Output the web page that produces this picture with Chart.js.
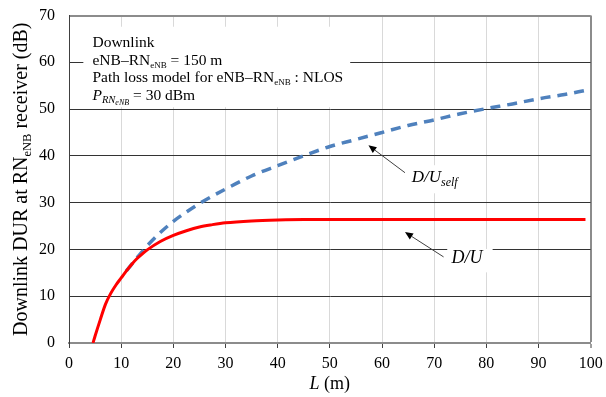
<!DOCTYPE html>
<html>
<head>
<meta charset="utf-8">
<script src="https://cdn.jsdelivr.net/npm/chart.js@4"></script>
<style>
html,body{margin:0;padding:0;background:#fff;}
#wrap{width:606px;height:397px;}
</style>
</head>
<body>
<div id="wrap"><canvas id="c" width="606" height="397"></canvas></div>
<script>
// ---- data ----
const L_DU    = [4.6, 5, 6, 7, 8, 9, 10, 11, 12, 13, 14, 15, 17.5, 20, 22.5, 25, 27.5, 30, 35, 40, 45, 50, 60, 70, 80, 90, 99];
const DU      = [0, 1.5, 5.0, 8.3, 10.6, 12.4, 13.9, 15.4, 16.8, 18.0, 19.0, 19.9, 21.7, 23.0, 24.0, 24.8, 25.3, 25.7, 26.1, 26.3, 26.4, 26.4, 26.4, 26.4, 26.4, 26.4, 26.4];
const L_SELF  = [11, 12, 13, 14, 15, 17.5, 20, 22.5, 25, 30, 35, 40, 45, 50, 55, 60, 65, 70, 75, 80, 85, 90, 95, 99];
const DU_SELF = [15.4, 16.8, 18.2, 19.5, 20.8, 23.6, 26.0, 28.0, 29.8, 32.9, 35.7, 37.9, 40.0, 42.0, 43.5, 45.0, 46.5, 47.7, 49.0, 50.1, 51.1, 52.2, 53.1, 54.0];
const X_TICKS = [0, 10, 20, 30, 40, 50, 60, 70, 80, 90, 100];
const Y_TICKS = [0, 10, 20, 30, 40, 50, 60, 70];

const SERIF = "'Liberation Serif', 'Times New Roman', serif";
const f = (size, style) => (style ? style + ' ' : '') + size + 'px ' + SERIF;

function richWidth(ctx, segs) {
  let w = 0;
  for (const s of segs) { ctx.font = s.font; w += ctx.measureText(s.t).width; }
  return w;
}
function drawRich(ctx, x, y, segs) {
  ctx.textBaseline = 'alphabetic';
  ctx.textAlign = 'left';
  let cx = x;
  for (const s of segs) {
    ctx.font = s.font;
    ctx.fillText(s.t, cx, y + (s.dy || 0));
    cx += ctx.measureText(s.t).width;
  }
  return cx;
}
function arrow(ctx, x1, y1, x2, y2) {
  ctx.save();
  ctx.strokeStyle = '#404040';
  ctx.fillStyle = '#000';
  ctx.lineWidth = 1;
  const a = Math.atan2(y2 - y1, x2 - x1);
  const hl = 8, hw = 3.5;
  const bx = x2 - hl * Math.cos(a), by = y2 - hl * Math.sin(a);
  ctx.beginPath(); ctx.moveTo(x1, y1); ctx.lineTo(bx, by); ctx.stroke();
  ctx.beginPath();
  ctx.moveTo(x2, y2);
  ctx.lineTo(bx + hw * Math.sin(a), by - hw * Math.cos(a));
  ctx.lineTo(bx - hw * Math.sin(a), by + hw * Math.cos(a));
  ctx.closePath(); ctx.fill();
  ctx.restore();
}

const annot = {
  id: 'annot',
  beforeDatasetsDraw(chart) {
    const ctx = chart.ctx, xs = chart.scales.x, ys = chart.scales.y;
    const X = v => xs.getPixelForValue(v), Y = v => ys.getPixelForValue(v);
    ctx.save();
    ctx.fillStyle = '#fff';
    // info box
    ctx.fillRect(X(2.75), Y(67.6), X(53.9) - X(2.75), Y(50.4) - Y(67.6));
    // label backgrounds
    ctx.fillRect(X(72.5), Y(20.1), X(81.2) - X(72.5), Y(15.1) - Y(20.1));
    ctx.fillRect(X(65.2), Y(38.0), X(75.8) - X(65.2), Y(32.0) - Y(38.0));
    ctx.restore();
  },
  afterDatasetsDraw(chart) {
    const ctx = chart.ctx, xs = chart.scales.x, ys = chart.scales.y;
    const X = v => xs.getPixelForValue(v), Y = v => ys.getPixelForValue(v);
    ctx.save();
    ctx.fillStyle = '#000';
    const tx = X(4.5);
    const fs = 15.5;
    drawRich(ctx, tx, Y(64.4) + 5, [{t: 'Downlink', font: f(fs)}]);
    drawRich(ctx, tx, Y(60.5) + 5, [
      {t: 'eNB\u2013RN', font: f(fs)}, {t: 'eNB', font: f(9), dy: 3}, {t: ' = 150 m', font: f(fs)}]);
    drawRich(ctx, tx, Y(56.8) + 5, [
      {t: 'Path loss model for eNB\u2013RN', font: f(fs)}, {t: 'eNB', font: f(9), dy: 3}, {t: ' : NLOS', font: f(fs)}]);
    drawRich(ctx, tx, Y(53.0) + 5, [
      {t: 'P', font: f(fs, 'italic')}, {t: 'RN', font: f(10.5, 'italic'), dy: 3},
      {t: 'eNB', font: f(8, 'italic'), dy: 5}, {t: ' = 30 dBm', font: f(fs)}]);

    // curve labels
    drawRich(ctx, X(65.7), Y(35.6) + 6, [{t: 'D/U', font: f(17, 'italic')}, {t: 'self', font: f(12, 'italic'), dy: 4}]);
    drawRich(ctx, X(73.3), Y(18.3) + 6, [{t: 'D/U', font: f(18, 'italic')}]);
    arrow(ctx, X(64.4), Y(36.4), X(57.4), Y(42.25));
    arrow(ctx, X(71.8), Y(18.4), X(64.4), Y(23.7));

    // axis titles
    const xt = [{t: 'L', font: f(18, 'italic')}, {t: ' (m)', font: f(18)}];
    const xw = richWidth(ctx, xt);
    drawRich(ctx, (chart.chartArea.left + chart.chartArea.right) / 2 - xw / 2, 389, xt);

    const yt = [{t: 'Downlink DUR at RN', font: f(20)}, {t: 'eNB', font: f(12.5), dy: 4}, {t: ' receiver (dB)', font: f(20)}];
    const yw = richWidth(ctx, yt);
    ctx.translate(27, (chart.chartArea.top + chart.chartArea.bottom) / 2);
    ctx.rotate(-Math.PI / 2);
    drawRich(ctx, -yw / 2, 0, yt);
    ctx.restore();
  }
};

new Chart(document.getElementById('c'), {
  type: 'line',
  data: {
    datasets: [
      {
        label: 'D/U',
        data: L_DU.map((x, i) => ({x, y: DU[i]})),
        borderColor: '#ff0000',
        borderWidth: 3,
        pointRadius: 0,
        cubicInterpolationMode: 'monotone',
        fill: false
      },
      {
        label: 'D/Uself',
        data: L_SELF.map((x, i) => ({x, y: DU_SELF[i]})),
        borderColor: '#4f81bd',
        borderWidth: 3.5,
        borderDash: [10, 7],
        pointRadius: 0,
        cubicInterpolationMode: 'monotone',
        fill: false
      }
    ]
  },
  options: {
    responsive: false,
    animation: false,
    devicePixelRatio: 1,
    layout: {padding: {top: 15.5, right: 15.3, left: 0, bottom: 0}},
    plugins: {legend: {display: false}, tooltip: {enabled: false}},
    scales: {
      x: {
        type: 'linear', min: 0, max: 100,
        afterBuildTicks: s => { s.ticks = X_TICKS.map(v => ({value: v})); },
        afterFit: s => { s.height = 54; s.paddingLeft = 0; s.paddingRight = 0; },
        ticks: {font: {family: SERIF, size: 16}, color: '#000', padding: 6, maxRotation: 0},
        grid: {
          color: c => (c.tick && c.tick.value === 100) ? '#8c8c8c' : (c.tick && c.tick.value === 0 ? 'rgba(0,0,0,0)' : '#d9d9d9'),
          lineWidth: c => (c.tick && c.tick.value === 100) ? 2 : 1,
          tickColor: '#404040', tickLength: 5, tickWidth: 1
        },
        border: {display: true, color: '#8c8c8c', width: 2}
      },
      y: {
        min: 0, max: 70,
        afterBuildTicks: s => { s.ticks = Y_TICKS.map(v => ({value: v})); },
        afterFit: s => { s.width = 69; s.paddingTop = 0; s.paddingBottom = 0; },
        ticks: {font: {family: SERIF, size: 16}, color: '#000', padding: 14},
        grid: {
          drawTicks: false,
          color: c => (c.tick && c.tick.value === 70) ? '#8c8c8c' : (c.tick && c.tick.value === 0 ? 'rgba(0,0,0,0)' : '#333333'),
          lineWidth: c => (c.tick && c.tick.value === 70) ? 2 : 1
        },
        border: {display: true, color: '#404040', width: 1}
      }
    }
  },
  plugins: [annot]
});
</script>
</body>
</html>
